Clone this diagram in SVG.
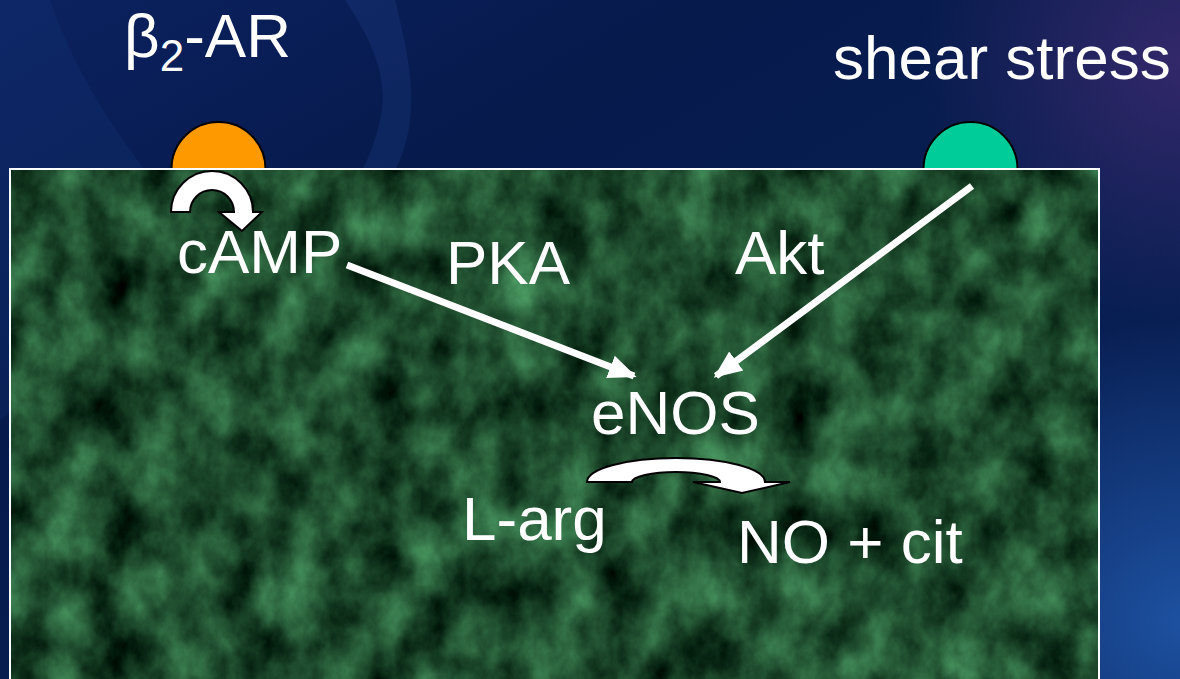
<svg xmlns="http://www.w3.org/2000/svg" width="1180" height="679" viewBox="0 0 1180 679">
  <defs>
    <linearGradient id="bg" x1="0" y1="0" x2="1" y2="1">
      <stop offset="0" stop-color="#0c2260"/>
      <stop offset="0.3" stop-color="#061a4c"/>
      <stop offset="1" stop-color="#0a2258"/>
    </linearGradient>
    <radialGradient id="purple" cx="1180" cy="60" r="260" gradientUnits="userSpaceOnUse">
      <stop offset="0" stop-color="#3a2a6e" stop-opacity="0.85"/>
      <stop offset="1" stop-color="#3a2a6e" stop-opacity="0"/>
    </radialGradient>
    <radialGradient id="blueR" cx="1180" cy="620" r="300" gradientUnits="userSpaceOnUse">
      <stop offset="0" stop-color="#1f56a8" stop-opacity="0.9"/>
      <stop offset="1" stop-color="#1f56a8" stop-opacity="0"/>
    </radialGradient>
    <filter id="marble" x="0" y="0" width="100%" height="100%" color-interpolation-filters="sRGB">
      <feTurbulence type="fractalNoise" baseFrequency="0.022 0.016" numOctaves="6" seed="11" result="n"/>
      <feColorMatrix in="n" type="matrix" values="0.4 0 0 0 -0.08  0.7 0 0 0 -0.05  0.48 0 0 0 -0.06  0 0 0 0 1"/>
    </filter>
    <marker id="ah" markerWidth="4" markerHeight="4" refX="3.6" refY="2" orient="auto" markerUnits="strokeWidth">
      <path d="M0,0.3 L4,2 L0,3.7 Z" fill="#ffffff"/>
    </marker>
    <style>
      .lbl { font-family: "Liberation Sans", Arial, sans-serif; fill: #ffffff; font-size: 62px; }
      .circ { stroke: #000000; stroke-width: 2; }
      .conn { stroke: #ffffff; stroke-width: 7; fill: none; }
      .block { fill: #ffffff; stroke: #000000; stroke-width: 2; stroke-linejoin: miter; }
    </style>
  </defs>

  <!-- background -->
  <rect x="0" y="0" width="1180" height="679" fill="url(#bg)"/>
  <path d="M0,0 L50,0 C80,90 140,170 220,260 L0,420 Z" fill="#1a3f86" opacity="0.2"/>
  <path d="M345,0 L395,0 C410,60 420,110 400,160 C380,200 355,230 335,260 L305,260 C335,220 370,170 380,120 C390,80 372,40 345,0 Z" fill="#2a4c9a" opacity="0.22"/>
  <rect x="0" y="0" width="1180" height="679" fill="url(#purple)"/>
  <rect x="0" y="0" width="1180" height="679" fill="url(#blueR)"/>

  <!-- receptors -->
  <g id="b2ar-receptor">
    <circle class="circ" cx="218.5" cy="169" r="47" fill="#ff9900"/>
  </g>
  <g id="shear-receptor">
    <circle class="circ" cx="970.5" cy="169" r="47" fill="#00cc99"/>
  </g>

  <!-- cell -->
  <g id="cell">
    <rect x="10" y="169" width="1089" height="530" fill="#1d5234"/>
    <rect x="10" y="169" width="1089" height="530" filter="url(#marble)"/>
    <rect x="10" y="169" width="1089" height="530" fill="none" stroke="#ffffff" stroke-width="2"/>
  </g>

  <!-- labels -->
  <g id="b2ar-label">
    <text class="lbl" x="124" y="57">β<tspan font-size="44" dy="14">2</tspan><tspan dy="-14">-AR</tspan></text>
  </g>
  <g id="shear-label">
    <text class="lbl" x="833" y="79">shear stress</text>
  </g>
  <g id="camp">
    <text class="lbl" x="177" y="273">cAMP</text>
  </g>
  <g id="pka">
    <text class="lbl" x="446" y="284">PKA</text>
  </g>
  <g id="akt">
    <text class="lbl" x="735" y="274">Akt</text>
  </g>
  <g id="enos">
    <text class="lbl" x="591" y="434">eNOS</text>
  </g>
  <g id="larg">
    <text class="lbl" x="462" y="540">L-arg</text>
  </g>
  <g id="no-cit">
    <text class="lbl" x="737" y="563">NO + cit</text>
  </g>

  <!-- connectors -->
  <g id="connectors">
    <line class="conn" x1="347" y1="265" x2="634" y2="376" marker-end="url(#ah)"/>
    <line class="conn" x1="972" y1="186" x2="716" y2="376" marker-end="url(#ah)"/>
    <path class="block" d="M171,212 A41,41 0 0 1 253,212 L262,212 L242,231 L219,212 L234,212 A22,22 0 0 0 190,212 Z"/>
    <path class="block" d="M587,482 A89,24 0 0 1 765,482 L790,482 L742,493 L693,482 L720,482 A44,10 0 0 0 632,482 Z"/>
  </g>
</svg>
